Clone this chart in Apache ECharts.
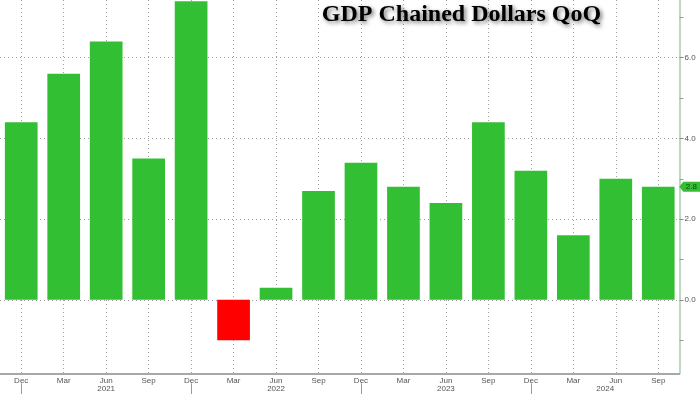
<!DOCTYPE html>
<html>
<head>
<meta charset="utf-8">
<script src="https://cdn.jsdelivr.net/npm/echarts@6/dist/echarts.min.js"></script>
<style>
html,body{margin:0;padding:0;background:#fff;}
#chart{width:700px;height:394px;}
</style>
</head>
<body>
<div id="chart"></div>
<script>
// ---- data ----
const months = ['Dec','Mar','Jun','Sep','Dec','Mar','Jun','Sep','Dec','Mar','Jun','Sep','Dec','Mar','Jun','Sep'];
const years = ['2021','2022','2023','2024'];
const gdp = [4.4, 5.6, 6.4, 3.5, 7.4, -1.0, 0.3, 2.7, 3.4, 2.8, 2.4, 4.4, 3.2, 1.6, 3.0, 2.8];
const yTickLabels = [0, 2, 4, 6];
const yMinorTicks = [-1, 1, 3, 5, 7];
const titleText = 'GDP Chained Dollars QoQ';

// ---- derived ----
const sepIdx = [];
months.forEach((m, i) => { if (m === 'Dec') sepIdx.push(i); });
const yearPos = sepIdx.map((s, k) => (s + (k + 1 < sepIdx.length ? sepIdx[k + 1] : months.length - 0.5)) / 2);
const lastIdx = gdp.length - 1;

const GREEN = '#33bf33';
const RED = '#ff0000';

const chart = echarts.init(document.getElementById('chart'), null, {renderer: 'canvas'});
chart.setOption({
  animation: false,
  backgroundColor: '#ffffff',
  title: {
    text: titleText,
    left: 461.5,
    top: 3,
    padding: 0,
    textAlign: 'center',
    textStyle: {
      fontFamily: 'Liberation Serif',
      fontWeight: 'bold',
      fontSize: 24,
      color: '#000',
      textShadowColor: 'rgba(0,0,0,0.55)',
      textShadowBlur: 4,
      textShadowOffsetX: 2,
      textShadowOffsetY: 2
    }
  },
  grid: {left: -3, right: 20.5, top: 0, bottom: 20.7, containLabel: false},
  xAxis: [
    {
      type: 'category',
      data: months,
      boundaryGap: true,
      position: 'bottom',
      axisLine: {show: true, onZero: false, lineStyle: {color: '#8a8a8a', width: 1.5}},
      axisTick: {show: false},
      axisLabel: {
        show: true, interval: 0, margin: 3,
        fontFamily: 'Liberation Sans', fontSize: 8, color: '#555'
      },
      splitLine: {
        show: true, alignWithLabel: true,
        lineStyle: {color: '#a0a0a0', type: [1, 3], width: 1}
      }
    },
    {
      type: 'value',
      position: 'bottom',
      min: -0.5,
      max: months.length - 0.5,
      offset: 10,
      axisLine: {show: false, onZero: false},
      axisTick: {show: true, customValues: sepIdx, length: 11, lineStyle: {color: '#999', width: 1}},
      axisLabel: {
        show: true, customValues: yearPos, margin: 1,
        fontFamily: 'Liberation Sans', fontSize: 8, color: '#555',
        formatter: function (v) {
          const k = yearPos.findIndex(p => Math.abs(p - v) < 1e-6);
          return k >= 0 ? years[k] : '';
        }
      },
      splitLine: {show: false}
    }
  ],
  yAxis: [
    {
      type: 'value',
      position: 'right',
      min: -1.82,
      max: 7.43,
      axisLine: {show: true, onZero: false, lineStyle: {color: '#a9cca9', width: 1.5}},
      axisTick: {show: true, customValues: yTickLabels, length: 4, lineStyle: {color: '#888'}},
      axisLabel: {
        show: true, customValues: yTickLabels, margin: 5,
        fontFamily: 'Liberation Sans', fontSize: 8, color: '#555',
        formatter: v => v.toFixed(1)
      },
      splitLine: {show: true, lineStyle: {color: '#a0a0a0', type: [1, 3], width: 1}}
    },
    {
      type: 'value',
      position: 'right',
      min: -1.82,
      max: 7.43,
      axisLine: {show: false, onZero: false},
      axisTick: {show: true, customValues: yMinorTicks, length: 4, lineStyle: {color: '#999'}},
      axisLabel: {show: false},
      splitLine: {show: false}
    }
  ],
  series: [
    {
      type: 'bar',
      xAxisIndex: 0,
      yAxisIndex: 0,
      data: gdp,
      barWidth: '77%',
      itemStyle: {color: p => (p.value < 0 ? RED : GREEN)},
      markPoint: {
        symbol: 'path://M0,5 L4,0 L22,0 L22,10 L4,10 Z',
        symbolSize: [22, 10],
        symbolOffset: [32, 0],
        itemStyle: {color: GREEN},
        label: {
          show: true, position: 'inside',
          fontFamily: 'Liberation Sans', fontSize: 8, color: '#1b3d1b',
          offset: [1, 0],
          formatter: p => gdp[lastIdx].toFixed(1)
        },
        data: [{coord: [lastIdx, gdp[lastIdx]]}]
      }
    }
  ]
});
</script>
</body>
</html>
